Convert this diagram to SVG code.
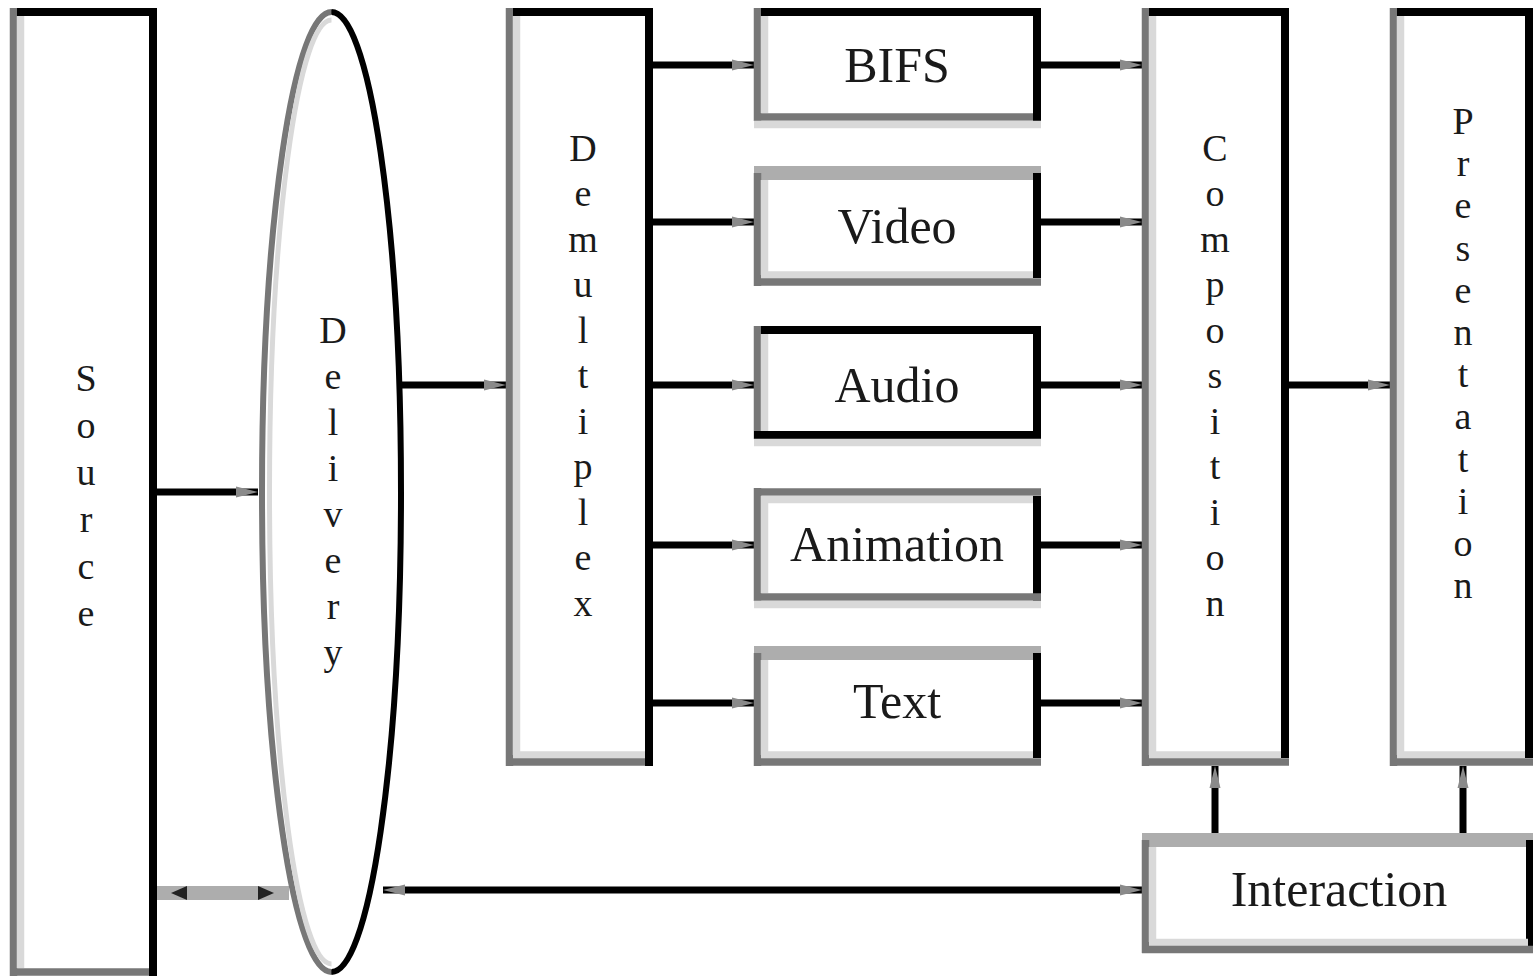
<svg xmlns="http://www.w3.org/2000/svg" width="1533" height="977" viewBox="0 0 1533 977">
<style>
.bg{fill:#fff;stroke:none}
.k{stroke:#000;stroke-width:8;fill:none}
.g{stroke:#777;stroke-width:7.5;fill:none}
.a{stroke:#adadad;stroke-width:14;fill:none}
.l{stroke:#d9d9d9;stroke-width:7.5;fill:none}
.lbl{font-family:"Liberation Serif","Times New Roman",serif;font-size:50px;fill:#1a1a1a;text-anchor:middle}
.vl{font-family:"Liberation Serif","Times New Roman",serif;font-size:38px;fill:#1a1a1a;text-anchor:middle}
.c{stroke:#000;stroke-width:7;fill:none}
</style>
<defs>
<marker id="ah" markerUnits="userSpaceOnUse" markerWidth="22" markerHeight="14" refX="22" refY="7" orient="auto-start-reverse">
<path d="M0,1.5 L22,7 L0,12.5 Z" fill="#8a8a8a"/>
</marker>
</defs>
<rect width="1533" height="977" fill="#fff"/>

<g id="connectors">
<line class="c" x1="157" y1="492" x2="258" y2="492" marker-end="url(#ah)"/>
<line class="c" x1="401" y1="385" x2="506" y2="385" marker-end="url(#ah)"/>
<line class="c" x1="653" y1="65" x2="754" y2="65" marker-end="url(#ah)"/>
<line class="c" x1="653" y1="222" x2="754" y2="222" marker-end="url(#ah)"/>
<line class="c" x1="653" y1="385" x2="754" y2="385" marker-end="url(#ah)"/>
<line class="c" x1="653" y1="545" x2="754" y2="545" marker-end="url(#ah)"/>
<line class="c" x1="653" y1="703" x2="754" y2="703" marker-end="url(#ah)"/>
<line class="c" x1="1041" y1="65" x2="1142" y2="65" marker-end="url(#ah)"/>
<line class="c" x1="1041" y1="222" x2="1142" y2="222" marker-end="url(#ah)"/>
<line class="c" x1="1041" y1="385" x2="1142" y2="385" marker-end="url(#ah)"/>
<line class="c" x1="1041" y1="545" x2="1142" y2="545" marker-end="url(#ah)"/>
<line class="c" x1="1041" y1="703" x2="1142" y2="703" marker-end="url(#ah)"/>
<line class="c" x1="1289" y1="385" x2="1390" y2="385" marker-end="url(#ah)"/>
<line class="c" x1="1215" y1="835" x2="1215" y2="766" marker-end="url(#ah)"/>
<line class="c" x1="1463" y1="835" x2="1463" y2="766" marker-end="url(#ah)"/>
<line class="c" x1="383" y1="890" x2="1142" y2="890" marker-start="url(#ah)" marker-end="url(#ah)"/>
<line class="a" x1="157" y1="893" x2="289" y2="893"/>
<polygon points="171,893 187,886 187,900" fill="#222"/>
<polygon points="274,893 258,886 258,900" fill="#222"/>
</g>

<g id="source">
<rect class="bg" x="10" y="8" width="147" height="968"/>
<line class="g" x1="13.5" y1="8" x2="13.5" y2="976"/>
<line class="l" x1="20.5" y1="16" x2="20.5" y2="968"/>
<line class="k" x1="17" y1="12" x2="157" y2="12"/>
<line class="k" x1="153" y1="8" x2="153" y2="976"/>
<line class="g" x1="10" y1="972" x2="149" y2="972"/>
<text class="vl"><tspan x="86" y="391">S</tspan><tspan x="86" y="438">o</tspan><tspan x="86" y="485">u</tspan><tspan x="86" y="532">r</tspan><tspan x="86" y="579">c</tspan><tspan x="86" y="626">e</tspan></text>
</g>

<g id="delivery">
<ellipse cx="331.5" cy="492" rx="69.5" ry="480" fill="#fff" stroke="#444" stroke-width="4"/>
<path d="M331.5,12 A69.5,480 0 0 0 331.5,972" fill="none" stroke="#777" stroke-width="6"/>
<path d="M331.5,20 A62,472 0 0 0 331.5,964" fill="none" stroke="#d9d9d9" stroke-width="5"/>
<path d="M331.5,12 A69.5,480 0 0 1 331.5,972" fill="none" stroke="#000" stroke-width="6"/>
<text class="vl"><tspan x="333" y="343">D</tspan><tspan x="333" y="389">e</tspan><tspan x="333" y="435">l</tspan><tspan x="333" y="481">i</tspan><tspan x="333" y="527">v</tspan><tspan x="333" y="573">e</tspan><tspan x="333" y="619">r</tspan><tspan x="333" y="665">y</tspan></text>
</g>

<g id="demultiplex">
<rect class="bg" x="506" y="8" width="147" height="758"/>
<line class="g" x1="509.5" y1="8" x2="509.5" y2="766"/>
<line class="l" x1="516.5" y1="16" x2="516.5" y2="755"/>
<line class="k" x1="513" y1="12" x2="653" y2="12"/>
<line class="k" x1="649" y1="8" x2="649" y2="766"/>
<line class="l" x1="513" y1="755" x2="645" y2="755"/>
<line class="g" x1="506" y1="762" x2="645" y2="762"/>
<text class="vl"><tspan x="583" y="161">D</tspan><tspan x="583" y="206">e</tspan><tspan x="583" y="252">m</tspan><tspan x="583" y="297">u</tspan><tspan x="583" y="343">l</tspan><tspan x="583" y="388">t</tspan><tspan x="583" y="434">i</tspan><tspan x="583" y="479">p</tspan><tspan x="583" y="525">l</tspan><tspan x="583" y="570">e</tspan><tspan x="583" y="616">x</tspan></text>
</g>

<g id="bifs">
<rect class="bg" x="754" y="8" width="287" height="120"/>
<line class="g" x1="757.5" y1="8" x2="757.5" y2="121"/>
<line class="l" x1="764.5" y1="16" x2="764.5" y2="113"/>
<line class="k" x1="761" y1="12" x2="1041" y2="12"/>
<line class="k" x1="1037" y1="8" x2="1037" y2="121"/>
<line class="g" x1="754" y1="117" x2="1033" y2="117"/>
<line class="l" x1="754" y1="124.5" x2="1041" y2="124.5"/>
<text class="lbl" x="897" y="82">BIFS</text>
</g>

<g id="video">
<rect class="bg" x="754" y="166" width="287" height="120"/>
<line class="a" x1="754" y1="173" x2="1041" y2="173"/>
<line class="g" x1="757.5" y1="173" x2="757.5" y2="286"/>
<line class="l" x1="764.5" y1="180" x2="764.5" y2="275"/>
<line class="k" x1="1037" y1="173" x2="1037" y2="278"/>
<line class="l" x1="761" y1="275" x2="1033" y2="275"/>
<line class="g" x1="754" y1="282" x2="1041" y2="282"/>
<text class="lbl" x="897" y="243">Video</text>
</g>

<g id="audio">
<rect class="bg" x="754" y="326" width="287" height="120"/>
<line class="g" x1="757.5" y1="326" x2="757.5" y2="439"/>
<line class="l" x1="764.5" y1="334" x2="764.5" y2="431"/>
<line class="k" x1="761" y1="330" x2="1041" y2="330"/>
<line class="k" x1="1037" y1="326" x2="1037" y2="439"/>
<line class="k" x1="754" y1="435" x2="1041" y2="435"/>
<line class="l" x1="754" y1="442.5" x2="1041" y2="442.5"/>
<text class="lbl" x="897" y="402">Audio</text>
</g>

<g id="animation">
<rect class="bg" x="754" y="488" width="287" height="120"/>
<line class="g" x1="754" y1="492" x2="1041" y2="492"/>
<line class="l" x1="761" y1="499.5" x2="1033" y2="499.5"/>
<line class="g" x1="757.5" y1="488" x2="757.5" y2="601"/>
<line class="l" x1="764.5" y1="496" x2="764.5" y2="593"/>
<line class="k" x1="1037" y1="496" x2="1037" y2="601"/>
<line class="g" x1="754" y1="597" x2="1041" y2="597"/>
<line class="l" x1="754" y1="604.5" x2="1041" y2="604.5"/>
<text class="lbl" x="897" y="561">Animation</text>
</g>

<g id="text">
<rect class="bg" x="754" y="646" width="287" height="120"/>
<line class="a" x1="754" y1="653" x2="1041" y2="653"/>
<line class="g" x1="757.5" y1="653" x2="757.5" y2="766"/>
<line class="l" x1="764.5" y1="660" x2="764.5" y2="755"/>
<line class="k" x1="1037" y1="653" x2="1037" y2="758"/>
<line class="l" x1="761" y1="755" x2="1033" y2="755"/>
<line class="g" x1="754" y1="762" x2="1041" y2="762"/>
<text class="lbl" x="897" y="718">Text</text>
</g>

<g id="composition">
<rect class="bg" x="1142" y="8" width="147" height="758"/>
<line class="g" x1="1145.5" y1="8" x2="1145.5" y2="766"/>
<line class="l" x1="1152.5" y1="16" x2="1152.5" y2="755"/>
<line class="k" x1="1149" y1="12" x2="1289" y2="12"/>
<line class="k" x1="1285" y1="8" x2="1285" y2="758"/>
<line class="l" x1="1149" y1="755" x2="1281" y2="755"/>
<line class="g" x1="1142" y1="762" x2="1289" y2="762"/>
<text class="vl"><tspan x="1215" y="161">C</tspan><tspan x="1215" y="206">o</tspan><tspan x="1215" y="252">m</tspan><tspan x="1215" y="297">p</tspan><tspan x="1215" y="343">o</tspan><tspan x="1215" y="388">s</tspan><tspan x="1215" y="434">i</tspan><tspan x="1215" y="479">t</tspan><tspan x="1215" y="525">i</tspan><tspan x="1215" y="570">o</tspan><tspan x="1215" y="616">n</tspan></text>
</g>

<g id="presentation">
<rect class="bg" x="1390" y="8" width="143" height="758"/>
<line class="g" x1="1393.5" y1="8" x2="1393.5" y2="766"/>
<line class="l" x1="1400.5" y1="16" x2="1400.5" y2="755"/>
<line class="k" x1="1397" y1="12" x2="1533" y2="12"/>
<line class="k" x1="1529" y1="8" x2="1529" y2="758"/>
<line class="l" x1="1397" y1="755" x2="1525" y2="755"/>
<line class="g" x1="1390" y1="762" x2="1533" y2="762"/>
<text class="vl"><tspan x="1463" y="134">P</tspan><tspan x="1463" y="176.2">r</tspan><tspan x="1463" y="218.4">e</tspan><tspan x="1463" y="260.6">s</tspan><tspan x="1463" y="302.8">e</tspan><tspan x="1463" y="345">n</tspan><tspan x="1463" y="387.2">t</tspan><tspan x="1463" y="429.4">a</tspan><tspan x="1463" y="471.6">t</tspan><tspan x="1463" y="513.8">i</tspan><tspan x="1463" y="556">o</tspan><tspan x="1463" y="598.2">n</tspan></text>
</g>

<g id="interaction">
<rect class="bg" x="1142" y="833" width="391" height="120"/>
<line class="a" x1="1142" y1="840" x2="1533" y2="840"/>
<line class="g" x1="1145.5" y1="840" x2="1145.5" y2="953"/>
<line class="l" x1="1152.5" y1="847" x2="1152.5" y2="942"/>
<line class="k" x1="1530" y1="840" x2="1530" y2="946"/>
<line class="l" x1="1149" y1="942.5" x2="1528" y2="942.5"/>
<line class="g" x1="1142" y1="949.5" x2="1533" y2="949.5"/>
<text class="lbl" x="1339" y="906">Interaction</text>
</g>
</svg>
